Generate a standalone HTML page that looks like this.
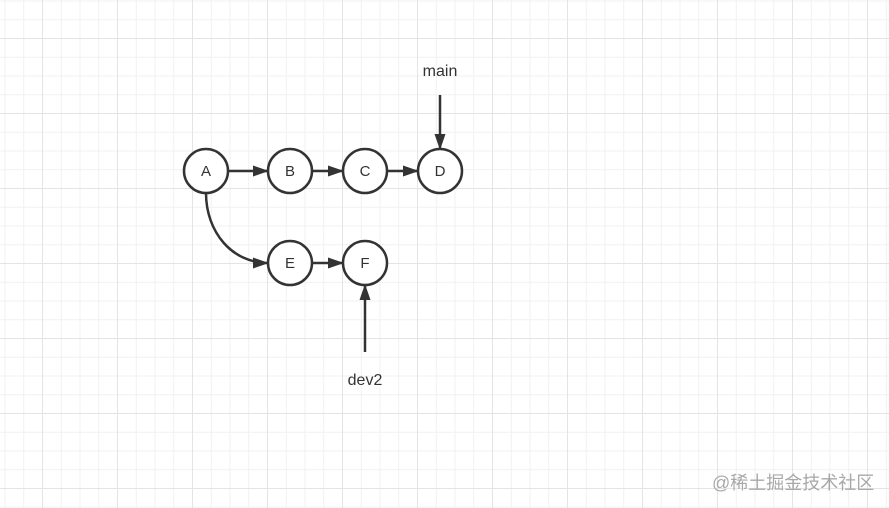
<!DOCTYPE html>
<html><head><meta charset="utf-8"><style>
html,body{margin:0;padding:0;background:#fff;}
svg{display:block;}
</style></head><body>
<svg width="889" height="508" viewBox="0 0 889 508" xmlns="http://www.w3.org/2000/svg">
<defs>
<pattern id="minor" x="4.5" y="0.5" width="18.75" height="18.75" patternUnits="userSpaceOnUse">
<path d="M0.5 0V18.75M0 0.5H18.75" stroke="#f1f1f1" stroke-width="1" fill="none"/>
</pattern>
<pattern id="major" x="42" y="38" width="75" height="75" patternUnits="userSpaceOnUse">
<path d="M0.5 0V75M0 0.5H75" stroke="#e4e4e4" stroke-width="1" fill="none"/>
</pattern>
<marker id="ar2" markerWidth="16" markerHeight="12" refX="15" refY="6" orient="auto" markerUnits="userSpaceOnUse">
<path d="M0,0.5 L16,6 L0,11.5 Z" fill="#333"/>
</marker>
</defs>
<rect width="889" height="508" fill="url(#minor)"/>
<rect width="889" height="508" fill="url(#major)"/>
<g stroke="#333" stroke-width="2.5" fill="none">
<line x1="228" y1="171" x2="268" y2="171" marker-end="url(#ar2)"/>
<line x1="312" y1="171" x2="343" y2="171" marker-end="url(#ar2)"/>
<line x1="387" y1="171" x2="418" y2="171" marker-end="url(#ar2)"/>
<line x1="312" y1="263" x2="343" y2="263" marker-end="url(#ar2)"/>
<path d="M206 193 C206 232 232 263 268 263" marker-end="url(#ar2)"/>
<line x1="440" y1="95" x2="440" y2="149" marker-end="url(#ar2)"/>
<line x1="365" y1="352" x2="365" y2="285" marker-end="url(#ar2)"/>
</g>
<g stroke="#333" stroke-width="2.5" fill="#fff">
<circle cx="206" cy="171" r="22"/>
<circle cx="290" cy="171" r="22"/>
<circle cx="365" cy="171" r="22"/>
<circle cx="440" cy="171" r="22"/>
<circle cx="290" cy="263" r="22"/>
<circle cx="365" cy="263" r="22"/>
</g>
<g font-family="Liberation Sans, sans-serif" font-size="15" fill="#333" text-anchor="middle">
<text x="206" y="176">A</text>
<text x="290" y="176">B</text>
<text x="365" y="176">C</text>
<text x="440" y="176">D</text>
<text x="290" y="268">E</text>
<text x="365" y="268">F</text>
<text x="440" y="76" font-size="16">main</text>
<text x="365" y="385" font-size="16">dev2</text>
</g>
<text x="712" y="489" font-family="Liberation Sans, 'Noto Sans CJK SC', sans-serif" font-size="18" fill="#a8a8a8">@稀土掘金技术社区</text>
</svg>
</body></html>
